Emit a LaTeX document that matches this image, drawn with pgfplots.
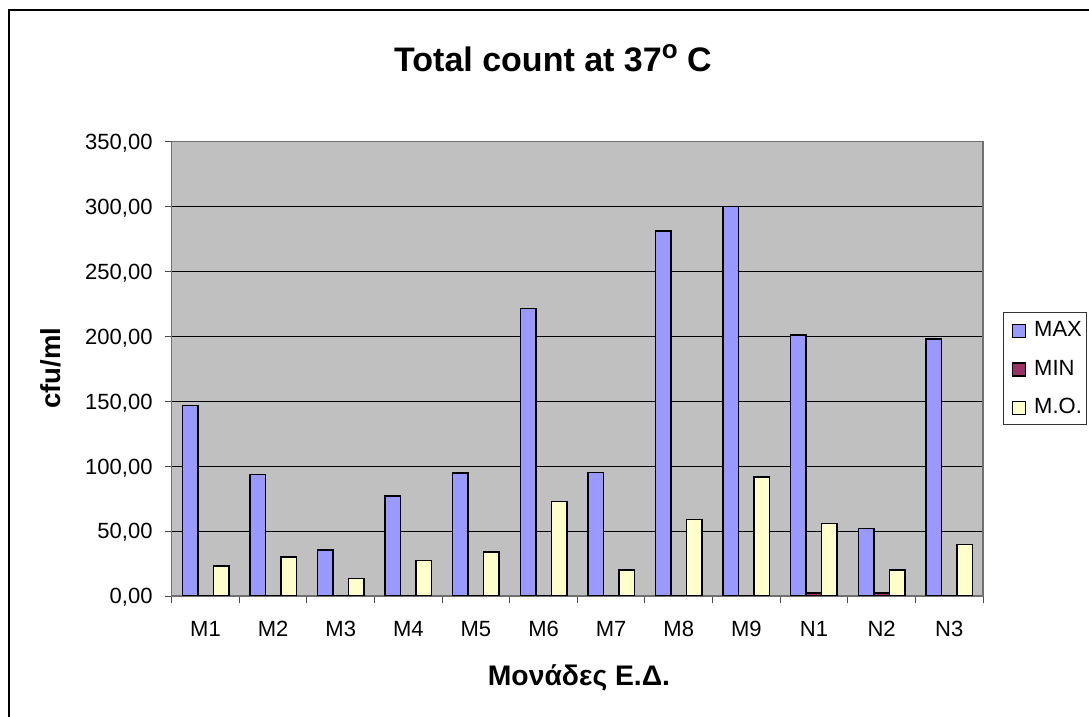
\documentclass[border=0pt]{standalone}
\usepackage{fontspec}
\setmainfont{Liberation Sans}
\usepackage{pgfplots}
\pgfplotsset{compat=1.18}
\definecolor{cmax}{HTML}{9999FF}
\definecolor{cmin}{HTML}{993366}
\definecolor{cmo}{HTML}{FFFFCC}
\definecolor{plotbg}{HTML}{C0C0C0}
\definecolor{framegray}{HTML}{707070}
\newcommand{\smallfont}{\fontsize{22bp}{25bp}\selectfont}
\begin{document}
\begin{tikzpicture}
\useasboundingbox (0,0) rectangle (1089bp,717bp);
\fill[white] (0,0) rectangle (1089bp,717bp);
\draw[line width=2bp] (8.7bp,-20bp) -- (8.7bp,706.8bp) -- (1120bp,706.8bp);
\begin{axis}[
  at={(171.7bp,121bp)}, anchor=south west,
  scale only axis, width=811.3bp, height=454.3bp,
  xmin=-0.5, xmax=11.5, ymin=0, ymax=350,
  ybar=0pt, bar width=15.5bp,
  legend image code/.code={\path (0bp,0bp); \draw[#1, line width=1.2bp] (3.3bp,-8.5bp) rectangle (16.3bp,4.5bp);},
  axis background/.style={fill=plotbg},
  axis line style={draw=framegray, line width=1.5bp},
  tick pos=left,
  ytick={0,50,...,350},
  ymajorgrids, major grid style={black, line width=1bp},
  tick align=outside, major tick length=7bp,
  tick style={draw=black!70, line width=1bp},
  xtick={-0.5,0.5,...,11.5}, xticklabels={},
  extra x ticks={0,1,...,11},
  extra x tick labels={M1,M2,M3,M4,M5,M6,M7,M8,M9,N1,N2,N3},
  extra x tick style={grid=none, major tick length=0pt, tick style={draw=none}},
  xticklabel style={font=\smallfont, anchor=base, inner sep=0pt, yshift=-40.7bp},
  yticklabel style={font=\smallfont, anchor=base east, inner sep=0pt, xshift=-12bp, yshift=-7.8bp,
    /pgf/number format/.cd, fixed, fixed zerofill, precision=2, use comma, 1000 sep={}},
  /pgf/number format/assume math mode=true,
  title={Total count at 37\raisebox{13.4bp}{\fontsize{26bp}{26bp}\selectfont o} C},
  title style={font=\bfseries\fontsize{34bp}{36bp}\selectfont, at={(axis description cs:0.4699,1.1541)}, anchor=base, inner sep=0pt, yshift=-6pt},
  xlabel={Μονάδες Ε.Δ.},
  xlabel style={font=\bfseries\fontsize{28.3bp}{30bp}\selectfont, at={(axis description cs:0.502,-0.1959)}, anchor=base, inner sep=0pt},
  ylabel={cfu/ml},
  ylabel style={font=\bfseries\fontsize{27.5bp}{30bp}\selectfont, at={(axis description cs:-0.1365,0.5019)}, anchor=base, inner sep=0pt},
  legend cell align=left,
  legend style={at={(axis description cs:1.0247,0.6258)}, anchor=north west,
    draw=black!80, line width=1bp, fill=white,
    inner xsep=5bp, inner ysep=9bp, row sep=21.6bp, column sep=8bp,
    font=\smallfont,
    nodes={inner sep=0pt, text height=15.6bp, text depth=0pt}},
]
\addplot[fill=cmax, draw=black, line width=1.5bp] coordinates {
 (0,146.7) (1,93.6) (2,35.4) (3,77) (4,94.9) (5,221.5) (6,95) (7,281.3) (8,300.2) (9,201) (10,52) (11,198)};
\addplot[fill=cmin, draw=black, line width=1.5bp] coordinates {
 (0,0) (1,0) (2,0) (3,0) (4,0) (5,0) (6,0) (7,0) (8,0) (9,2.5) (10,2.5) (11,0)};
\addplot[fill=cmo, draw=black, line width=1.5bp] coordinates {
 (0,23) (1,30) (2,13.3) (3,27.2) (4,34) (5,72.8) (6,20) (7,59) (8,91.8) (9,56) (10,20) (11,39.8)};
\legend{MAX,MIN,M.O.}
\end{axis}
\end{tikzpicture}
\end{document}
